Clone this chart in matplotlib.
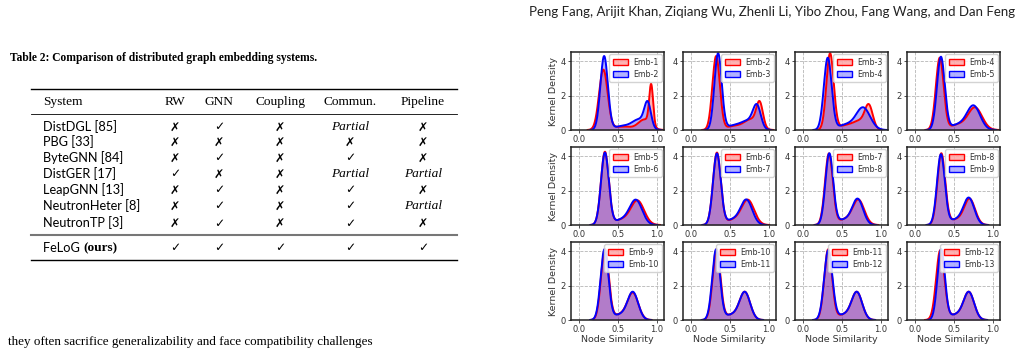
import numpy as np
import matplotlib
matplotlib.use("Agg")
import matplotlib.pyplot as plt
from matplotlib.patches import Patch
from matplotlib.lines import Line2D

W, H = 1022, 356

# ---- table data ----
Y, N, P = "\u2713", "\u2717", "Partial"
systems = ["DistDGL [85]", "PBG [33]", "ByteGNN [84]", "DistGER [17]",
           "LeapGNN [13]", "NeutronHeter [8]", "NeutronTP [3]"]
col_names = ["RW", "GNN", "Coupling", "Commun.", "Pipeline"]
rw_col = [N, N, N, Y, N, N, N]
gnn_col = [Y, N, Y, N, Y, Y, Y]
coupling_col = [N, N, N, N, N, N, N]
commun_col = [P, N, Y, P, Y, Y, Y]
pipeline_col = [N, N, N, P, N, P, N]
felog_row = [Y, Y, Y, Y, Y]

# ---- density peaks (position, height, width) ----
emb_labels = ["Emb-%d" % i for i in range(1, 14)]
peak_pos = [
    [0.31, 0.56, 0.84, 0.925],
    [0.32, 0.55, 0.77, 0.88],
    [0.345, 0.55, 0.74, 0.845],
    [0.315, 0.55, 0.77],
    [0.33, 0.55, 0.75],
    [0.33, 0.55, 0.73],
    [0.33, 0.53, 0.71],
    [0.335, 0.52, 0.70],
    [0.33, 0.52, 0.69],
    [0.325, 0.52, 0.69],
    [0.32, 0.52, 0.69],
    [0.322, 0.52, 0.69],
    [0.333, 0.52, 0.69],
]
peak_height = [
    [3.5, 0.2, 0.6, 2.35],
    [4.3, 0.22, 0.6, 1.4],
    [4.45, 0.25, 0.5, 1.25],
    [4.2, 0.3, 1.3],
    [4.25, 0.3, 1.4],
    [4.2, 0.3, 1.42],
    [4.15, 0.3, 1.45],
    [4.15, 0.3, 1.5],
    [4.1, 0.3, 1.55],
    [4.1, 0.3, 1.6],
    [4.1, 0.3, 1.6],
    [4.05, 0.3, 1.6],
    [4.1, 0.3, 1.6],
]
peak_width = [
    [0.055, 0.12, 0.08, 0.025],
    [0.048, 0.10, 0.09, 0.042],
    [0.047, 0.10, 0.09, 0.05],
    [0.05, 0.10, 0.09],
    [0.05, 0.10, 0.085],
    [0.05, 0.10, 0.08],
    [0.05, 0.09, 0.075],
    [0.05, 0.09, 0.07],
    [0.05, 0.09, 0.07],
    [0.05, 0.09, 0.068],
    [0.05, 0.09, 0.068],
    [0.053, 0.09, 0.068],
    [0.048, 0.09, 0.068],
]


def density(k, x):
    d = np.zeros_like(x)
    for p, h, w in zip(peak_pos[k], peak_height[k], peak_width[k]):
        d += h * np.exp(-0.5 * ((x - p) / w) ** 2)
    return d


def fx(px):
    return px / W


def fy(py):
    return 1 - py / H


fig = plt.figure(figsize=(W / 100, H / 100), dpi=100)

serif = "Liberation Serif"
sans = "Lato"

# header + caption + body text
fig.text(fx(1015), fy(12), "Peng Fang, Arijit Khan, Ziqiang Wu, Zhenli Li, Yibo Zhou, Fang Wang, and Dan Feng",
         family=sans, fontsize=9.5, ha="right", va="center", color="#222")
fig.text(fx(10), fy(58), "Table 2: Comparison of distributed graph embedding systems.",
         family=serif, weight="bold", fontsize=8.3, ha="left", va="center")
fig.text(fx(8), fy(342), "they often sacrifice generalizability and face compatibility challenges",
         family=serif, fontsize=9.45, ha="left", va="center")

# table rules
def hrule(y, lw, color="black"):
    fig.add_artist(Line2D([fx(31), fx(457)], [fy(y), fy(y)], lw=lw, color=color,
                          transform=fig.transFigure))

hrule(89, 1.0)
hrule(114, 0.6)
hrule(235, 1.5, "#777")
hrule(260, 1.0)

col_x = [175, 219, 280, 350, 423]
fs_head = 9.6
fig.text(fx(43), fy(102), "System", family=serif, fontsize=fs_head, ha="left", va="center")
for cx, name in zip(col_x, col_names):
    fig.text(fx(cx), fy(102), name, family=serif, fontsize=fs_head, ha="center", va="center")


def cell(cx, cy, val):
    if val == P:
        fig.text(fx(cx), fy(cy), val, family=serif, style="italic", fontsize=fs_head,
                 ha="center", va="center")
    else:
        fig.text(fx(cx), fy(cy), val, family="DejaVu Sans", fontsize=8.8,
                 ha="center", va="center")


row_y = [127, 142, 158, 174, 190, 206, 223]
cols = [rw_col, gnn_col, coupling_col, commun_col, pipeline_col]
for i, name in enumerate(systems):
    fig.text(fx(43), fy(row_y[i]), name, family=sans, fontsize=9.2, ha="left", va="center")
    for cx, col in zip(col_x, cols):
        cell(cx, row_y[i], col[i])

t1 = fig.text(fx(43), fy(248), "FeLoG ", family=sans, fontsize=9.2, ha="left", va="center")
fig.canvas.draw()
bb = t1.get_window_extent()
fig.text(bb.x1 / W, fy(248), "(ours)", family=serif, weight="bold", fontsize=fs_head,
         ha="left", va="center")
for cx, val in zip(col_x, felog_row):
    cell(cx, 248, val)

# ---- 3x4 grid of density panels ----
col_left = [571, 683, 795, 907]
row_top = [52, 147, 242]
aw, ah = 93, 78
x = np.linspace(-0.15, 1.15, 600)

for r in range(3):
    for c in range(4):
        k = r * 4 + c
        ax = fig.add_axes([fx(col_left[c]), fy(row_top[r] + ah), aw / W, ah / H])
        ax.grid(True, ls="--", color="#b5b5b5", lw=0.6)
        ax.set_axisbelow(True)
        for j, color in zip([k, k + 1], ["red", "blue"]):
            d = density(j, x)
            keep = d > 0.004
            ax.fill_between(x[keep], d[keep], color=color, alpha=0.3, lw=0)
            ax.plot(x[keep], d[keep], color=color, lw=1.4)
        ax.set_xlim(-0.106, 1.09)
        ax.set_ylim(0, 4.55)
        ax.set_xticks([0.0, 0.5, 1.0])
        ax.set_xticklabels(["0.0", "0.5", "1.0"])
        ax.set_yticks([0, 2, 4])
        ax.tick_params(labelsize=6.0, colors="#333", length=2, width=0.6, pad=1.5)
        for s in ax.spines.values():
            s.set_linewidth(1.1)
            s.set_color("#222")
        handles = [Patch(facecolor=(1, 0, 0, 0.3), edgecolor="red", lw=1.0),
                   Patch(facecolor=(0, 0, 1, 0.3), edgecolor="blue", lw=1.0)]
        ax.legend(handles, [emb_labels[k], emb_labels[k + 1]], loc="upper right",
                  fontsize=5.7, handlelength=2.0, handleheight=0.8, borderaxespad=0.3,
                  labelspacing=0.4, borderpad=0.4, handletextpad=0.6, framealpha=0.85,
                  labelcolor="#333")
        if c == 0:
            ax.set_ylabel("Kernel Density", fontsize=6.8, color="#333", labelpad=2)
        if r == 2:
            ax.set_xlabel("Node Similarity", fontsize=6.8, color="#333", labelpad=1)

fig.savefig("out.png", dpi=100)
